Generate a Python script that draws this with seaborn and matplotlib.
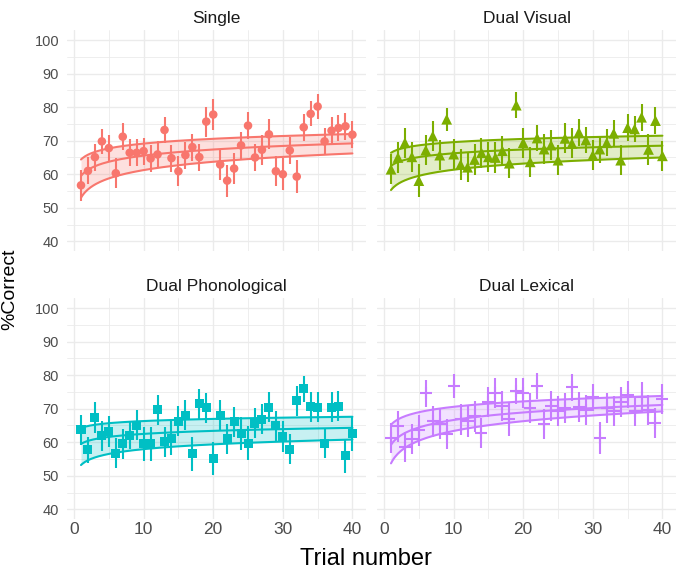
import numpy as np
import pandas as pd
import matplotlib
matplotlib.use("Agg")
import matplotlib.pyplot as plt
import seaborn as sns

# ---------------------------------------------------------
# data
# ---------------------------------------------------------
trials = list(range(1, 41))
panels = ["Single", "Dual Visual", "Dual Phonological", "Dual Lexical"]
colors = ["#F8766D", "#7CAE00", "#00BFC4", "#C77CFF"]
markers = ["o", "^", "s", "+"]

single = [56.7, 61.0, 65.1, 69.8, 67.8, 60.3, 71.2, 66.4, 66.4, 66.9,
          64.7, 65.9, 73.2, 64.8, 60.9, 65.7, 68.1, 65.1, 75.7, 77.8,
          62.9, 58.1, 61.7, 68.6, 74.5, 65.0, 67.3, 71.9, 60.9, 60.0,
          67.1, 59.3, 74.0, 78.0, 80.2, 69.8, 73.0, 73.8, 74.3, 71.8]
single_err = [4.7, 4.0, 4.0, 3.7, 4.0, 4.5, 4.0, 4.0, 4.0, 4.0,
              4.0, 4.0, 3.8, 4.0, 4.5, 4.0, 4.0, 4.0, 4.5, 4.5,
              4.5, 4.8, 4.5, 4.0, 4.0, 4.0, 4.5, 4.5, 4.5, 4.8,
              4.0, 5.0, 4.0, 3.7, 3.6, 4.0, 4.0, 4.0, 4.0, 4.0]

dual_visual = [61.5, 65.0, 69.4, 65.2, 58.1, 67.2, 71.4, 65.7, 76.4, 66.0,
               62.9, 62.1, 64.4, 66.4, 65.2, 65.0, 67.0, 63.3, 80.6, 69.4,
               63.7, 70.8, 67.5, 68.7, 64.2, 70.7, 69.2, 72.5, 70.2, 65.7,
               67.5, 69.4, 72.2, 64.2, 73.9, 73.5, 77.0, 67.4, 76.0, 65.5]
dual_visual_err = [4.5, 4.5, 4.5, 4.5, 5.0, 4.5, 4.5, 4.5, 3.5, 4.5,
                   4.5, 4.5, 4.5, 4.5, 4.5, 4.5, 4.5, 4.5, 3.8, 4.5,
                   4.5, 4.0, 4.5, 4.5, 4.5, 4.5, 4.5, 4.0, 4.0, 4.5,
                   4.0, 4.0, 4.0, 4.5, 4.0, 4.0, 4.0, 4.5, 4.0, 4.5]

dual_phon = [63.7, 57.7, 67.4, 61.9, 63.2, 56.7, 59.5, 61.9, 65.1, 59.5,
             59.5, 69.7, 60.1, 61.2, 66.3, 68.0, 56.5, 71.4, 70.3, 55.1,
             68.1, 61.0, 66.1, 62.6, 59.7, 65.7, 66.9, 70.4, 64.9, 61.7,
             57.9, 72.4, 75.9, 70.6, 70.4, 59.7, 70.4, 70.8, 55.9, 62.5]
dual_phon_err = [4.5, 4.0, 4.5, 4.5, 4.5, 4.5, 4.5, 4.0, 4.5, 5.0,
                 5.0, 4.5, 4.5, 5.0, 4.5, 4.5, 5.0, 4.5, 4.5, 5.0,
                 4.5, 4.5, 4.5, 5.0, 5.0, 4.5, 4.5, 4.5, 4.5, 4.5,
                 4.5, 4.5, 3.8, 4.5, 4.5, 4.5, 4.5, 4.5, 5.0, 5.0]

dual_lex = [61.2, 64.7, 58.7, 61.0, 63.5, 74.6, 66.2, 65.5, 62.4, 76.8,
            66.8, 66.2, 67.7, 62.8, 72.0, 74.6, 70.9, 66.8, 75.3, 74.6,
            70.3, 76.8, 65.5, 70.9, 69.2, 70.3, 76.4, 70.6, 69.7, 73.4,
            61.2, 70.1, 69.2, 71.9, 74.2, 69.4, 73.6, 69.7, 65.7, 73.0]
dual_lex_err = [4.5, 4.5, 4.5, 4.5, 4.5, 4.0, 4.5, 4.5, 4.5, 3.6,
                4.5, 4.5, 4.5, 4.5, 4.5, 4.5, 4.5, 5.0, 4.0, 4.5,
                4.5, 3.8, 4.5, 4.5, 4.5, 4.5, 4.0, 4.5, 4.5, 4.0,
                4.7, 4.5, 4.5, 4.5, 4.0, 4.5, 4.5, 4.5, 4.5, 4.5]

values = [single, dual_visual, dual_phon, dual_lex]
errors = [single_err, dual_visual_err, dual_phon_err, dual_lex_err]

# log fits: (value at trial 1, slope per log(trial)) for upper / fit / lower curves
upper_fit = [(64.4, 2.06), (66.4, 1.38), (64.2, 0.92), (65.2, 2.33)]
mid_fit = [(59.5, 2.63), (62.5, 1.63), (59.5, 1.30), (59.2, 3.23)]
lower_fit = [(53.0, 3.58), (55.3, 2.63), (53.2, 2.06), (53.7, 4.20)]

df = pd.DataFrame({
    "trial": trials * 4,
    "condition": np.repeat(panels, len(trials)),
    "correct": np.concatenate(values),
    "err": np.concatenate(errors),
})

# ---------------------------------------------------------
# figure
# ---------------------------------------------------------
sns.set_theme(style="white")
plt.rcParams["font.family"] = ["Liberation Sans", "DejaVu Sans"]

fig = plt.figure(figsize=(6.77, 5.72), dpi=100)
positions = [
    (0.0996, 0.5605, 0.441, 0.387),
    (0.5575, 0.5605, 0.441, 0.387),
    (0.0996, 0.092, 0.441, 0.387),
    (0.5575, 0.092, 0.441, 0.387),
]

xs = np.linspace(1, 40, 200)

for i, name in enumerate(panels):
    ax = fig.add_axes(positions[i])
    col = colors[i]
    sub = df[df["condition"] == name]

    # grid (major every 10, minor every 5)
    for v in range(40, 101, 5):
        ax.axhline(v, color="#EBEBEB", lw=1.0 if v % 10 == 0 else 0.6, zorder=0)
    for v in range(0, 41, 5):
        ax.axvline(v, color="#EBEBEB", lw=1.0 if v % 10 == 0 else 0.6, zorder=0)

    # fitted curves and band
    up = upper_fit[i][0] + upper_fit[i][1] * np.log(xs)
    mid = mid_fit[i][0] + mid_fit[i][1] * np.log(xs)
    lo = lower_fit[i][0] + lower_fit[i][1] * np.log(xs)
    ax.fill_between(xs, lo, up, color=col, alpha=0.22, lw=0, zorder=1)
    for curve in (up, mid, lo):
        sns.lineplot(x=xs, y=curve, color=col, lw=1.5, ax=ax, zorder=2)

    # error bars
    ax.vlines(sub["trial"], sub["correct"] - sub["err"], sub["correct"] + sub["err"],
              color=col, lw=1.5, zorder=3)

    # points
    if markers[i] == "+":
        sns.scatterplot(data=sub, x="trial", y="correct", marker="+", s=85,
                        color=col, linewidth=1.5, ax=ax, zorder=4)
    else:
        msize = {"o": 38, "^": 60, "s": 42}[markers[i]]
        sns.scatterplot(data=sub, x="trial", y="correct", marker=markers[i], s=msize,
                        color=col, edgecolor="none", ax=ax, zorder=4)

    ax.set_xlim(-0.95, 41.95)
    ax.set_ylim(37, 103)
    ax.set_xticks([0, 10, 20, 30, 40])
    ax.set_yticks([40, 50, 60, 70, 80, 90, 100])
    ax.set_xlabel("")
    ax.set_ylabel("")
    for s in ax.spines.values():
        s.set_visible(False)
    ax.tick_params(length=0)
    ax.tick_params(axis="y", labelsize=10.5, labelcolor="#4D4D4D", pad=6)
    ax.tick_params(axis="x", labelsize=12.5, labelcolor="#4D4D4D", pad=2)
    if i in (0, 1):
        ax.set_xticklabels([])
    if i in (1, 3):
        ax.set_yticklabels([])
    ax.set_title(name, fontsize=12.5, color="#1A1A1A", pad=5)

fig.text(0.54, 0.004, "Trial number", ha="center", va="bottom", fontsize=17, color="black")
fig.text(0.002, 0.495, "%Correct", ha="left", va="center", rotation=90, fontsize=14, color="black")

fig.savefig("out.png", dpi=100)
